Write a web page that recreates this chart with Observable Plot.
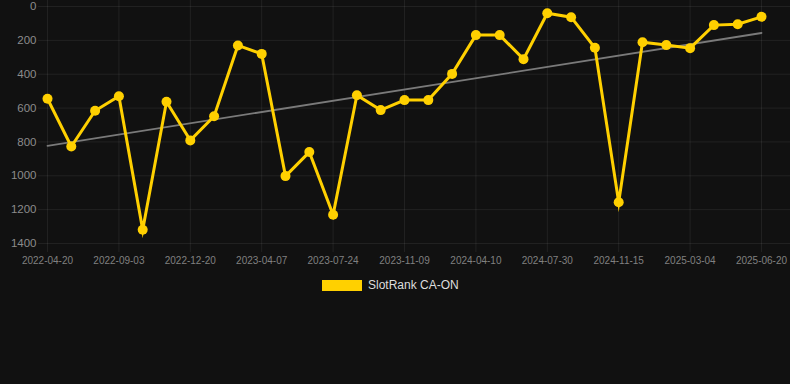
<!DOCTYPE html>
<html>
<head>
<meta charset="utf-8">
<script src="https://cdn.jsdelivr.net/npm/d3@7"></script>
<script src="https://cdn.jsdelivr.net/npm/@observablehq/plot@0.6"></script>
<style>
  html, body { margin: 0; padding: 0; background: #111111; }
  #wrap { width: 790px; height: 384px; position: relative; background: #111111; overflow: hidden; }
  #legend { position: absolute; left: 322px; top: 278px; display: flex; align-items: center; font-family: "Liberation Sans", Arial, sans-serif; font-size: 12px; color: #dddddd; }
  #legend .sw { width: 40px; height: 11px; background: #FFD000; margin-right: 6px; }
</style>
</head>
<body>
<div id="wrap"><div id="chart"></div><div id="legend"><span class="sw"></span><span>SlotRank CA-ON</span></div></div>
<script>
// Dates of each observation (every third one is labelled on the axis; intermediate dates estimated)
const dates = [
  "2022-04-20","2022-06-05","2022-07-20","2022-09-03","2022-10-09","2022-11-14",
  "2022-12-20","2023-01-25","2023-03-02","2023-04-07","2023-05-13","2023-06-18",
  "2023-07-24","2023-08-29","2023-10-04","2023-11-09","2023-12-30","2024-02-19",
  "2024-04-10","2024-05-17","2024-06-23","2024-07-30","2024-09-04","2024-10-10",
  "2024-11-15","2024-12-21","2025-01-27","2025-03-04","2025-04-09","2025-05-15",
  "2025-06-20"
];
// SlotRank CA-ON rank values
const ranks = [
  545, 827, 616, 530, 1319, 563,
  791, 648, 230, 280, 1002, 860,
  1230, 524, 612, 553, 553, 398,
  169, 169, 311, 40, 63, 244,
  1156, 211, 228, 246, 110, 105,
  61
];
const yTicks = [0, 200, 400, 600, 800, 1000, 1200, 1400];
const xTickIdx = d3.range(0, dates.length, 3);

const data = ranks.map((v, i) => ({i, date: dates[i], rank: v}));

const chart = Plot.plot({
  width: 790,
  height: 270,
  marginLeft: 47,
  marginRight: 29,
  marginTop: 6,
  marginBottom: 27,
  style: {background: "#111111", color: "#8a8a8a", fontFamily: "'Liberation Sans', Arial, sans-serif", fontSize: "11px"},
  x: {domain: [0, dates.length - 1], label: null},
  y: {domain: [0, 1400], reverse: true, label: null},
  marks: [
    Plot.gridY(yTicks, {stroke: "#ffffff", strokeOpacity: 0.07, insetLeft: -9, insetRight: -29}),
    Plot.gridX(xTickIdx, {stroke: "#ffffff", strokeOpacity: 0.07, insetBottom: -9, insetTop: -6}),
    Plot.axisY(yTicks, {tickSize: 0, tickPadding: 11, tickFormat: d => String(d), fill: "#8c8c8c", fontSize: 11.5}),
    Plot.axisX(xTickIdx, {tickSize: 0, tickPadding: 13, tickFormat: i => dates[i], fill: "#808080", fontSize: 10}),
    Plot.linearRegressionY(data, {x: "i", y: "rank", ci: 0, stroke: "#7a7a7a", strokeWidth: 1.8}),
    Plot.line(data, {x: "i", y: "rank", stroke: "#FFD000", strokeWidth: 3, strokeLinejoin: "miter", strokeMiterlimit: 10}),
    Plot.dot(data, {x: "i", y: "rank", r: 5, fill: "#FFD000", stroke: "none"})
  ]
});
document.getElementById("chart").appendChild(chart);
</script>
</body>
</html>
